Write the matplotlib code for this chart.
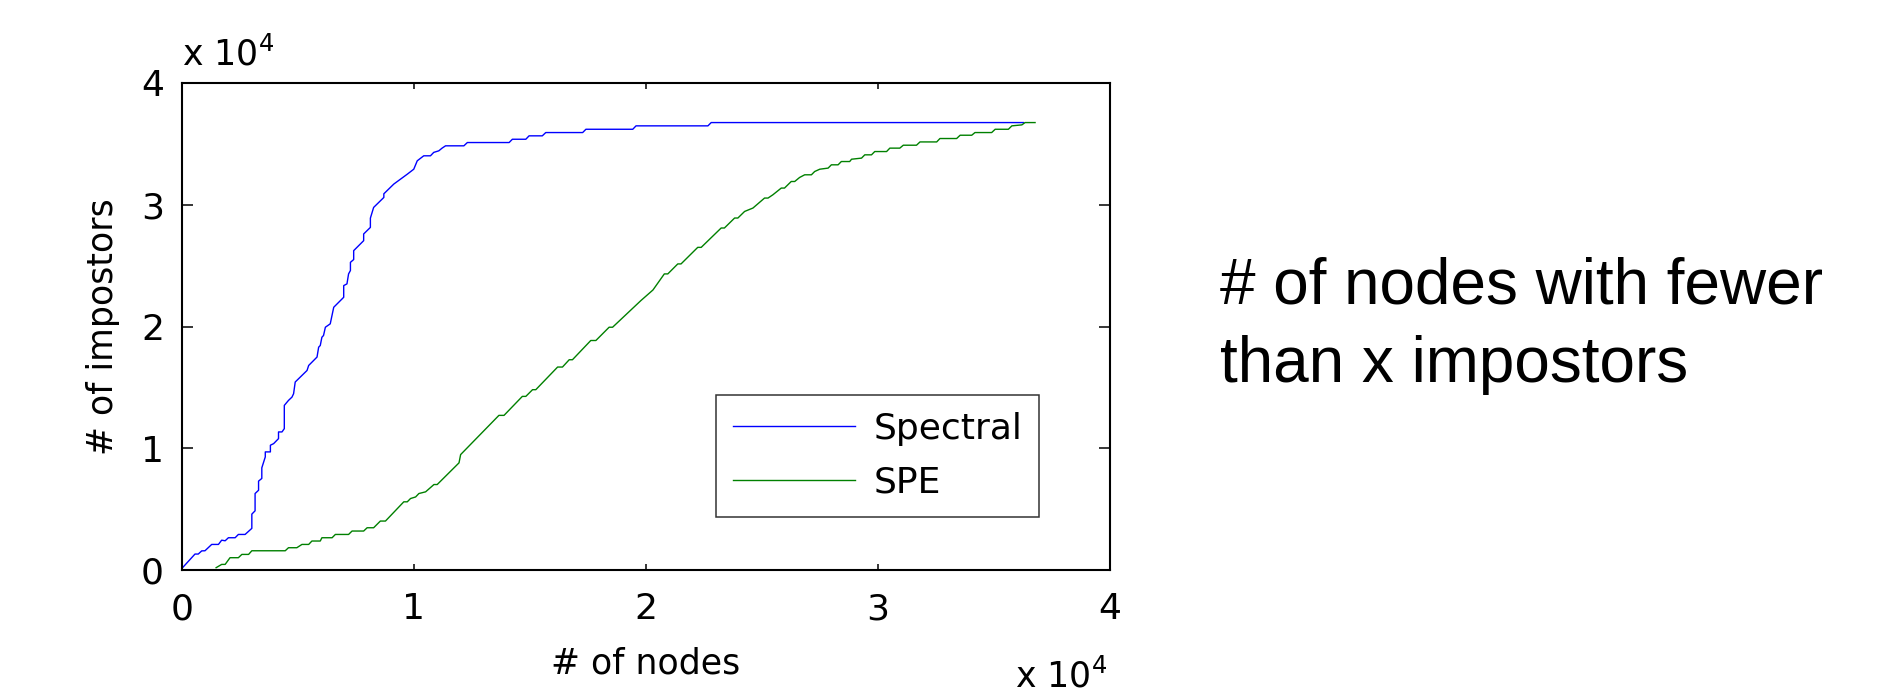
import matplotlib
matplotlib.use("Agg")
import matplotlib.pyplot as plt
from matplotlib.ticker import FixedLocator, FuncFormatter

# ---- data (counts) ----
spectral_nodes = [0, 560, 700, 850, 990, 1280, 1570, 1710, 1860, 2000, 2290, 2430, 2720,
                  3010, 3010, 3150, 3150, 3300, 3300, 3440, 3440, 3590, 3590, 3810, 3810,
                  3950, 4160, 4160, 4310, 4410, 4410, 4590, 4740, 4810, 4880, 5390, 5460,
                  5820, 5890, 5960, 6030, 6100, 6180, 6390, 6540, 6970, 6970, 7110, 7180,
                  7260, 7260, 7400, 7400, 7830, 7830, 8120, 8120, 8260, 8700, 8700, 9130,
                  9710, 9990, 10140, 10420, 10710, 10850, 11070, 11210, 11360, 12150, 12300,
                  14100, 14240, 14820, 14960, 15530, 15680, 17270, 17410, 19430, 19570,
                  22670, 22810, 36270]
spectral_imp = [140, 1310, 1310, 1570, 1580, 2100, 2100, 2450, 2400, 2650, 2650, 2920, 2920,
                3420, 4590, 4860, 6280, 6550, 7300, 7520, 8390, 9290, 9700, 9700, 10250,
                10380, 10790, 11340, 11340, 11610, 13520, 13930, 14200, 14480, 15440, 16390,
                16800, 17490, 18300, 18440, 19120, 19260, 19940, 20220, 21580, 22400, 23360,
                23500, 24320, 24600, 25270, 25500, 26230, 27050, 27600, 28140, 28900, 29780,
                30600, 30900, 31700, 32510, 32920, 33610, 34020, 34020, 34300, 34430, 34650,
                34840, 34840, 35110, 35110, 35380, 35380, 35660, 35660, 35930, 35930, 36200,
                36200, 36480, 36480, 36750, 36750]

spe_nodes = [1470, 1710, 1860, 2070, 2430, 2580, 2870, 3010, 4450, 4590, 4950, 5170, 5460,
             5600, 5960, 6030, 6470, 6610, 7180, 7330, 7830, 7980, 8260, 8550, 8770, 9560,
             9710, 9850, 10070, 10210, 10500, 10860, 11000, 11940, 12010, 13660, 13880,
             14670, 14820, 15110, 15250, 16190, 16400, 16690, 16830, 17620, 17840, 18410,
             18560, 19780, 20300, 20790, 20940, 21370, 21510, 22230, 22380, 23240, 23380,
             23820, 23960, 24250, 24610, 25110, 25260, 25470, 25830, 25970, 26260, 26410,
             26620, 26840, 27130, 27270, 27490, 27850, 27990, 28280, 28420, 28780, 28860,
             29290, 29430, 29720, 29860, 30370, 30510, 30940, 31090, 31660, 31810, 32530,
             32670, 33390, 33540, 34040, 34180, 34900, 35050, 35620, 35770, 36200, 36340,
             36770]
spe_imp = [190, 460, 460, 1010, 1010, 1280, 1280, 1580, 1580, 1830, 1830, 2100, 2100, 2380,
           2380, 2650, 2650, 2920, 2920, 3200, 3200, 3470, 3470, 4020, 4020, 5600, 5600,
           5870, 6000, 6280, 6420, 7020, 7020, 8800, 9480, 12700, 12700, 14260, 14260, 14810,
           14810, 16670, 16670, 17270, 17270, 18850, 18850, 19940, 19940, 22130, 23000,
           24320, 24320, 25140, 25140, 26500, 26500, 28090, 28090, 28910, 28910, 29450,
           29730, 30550, 30550, 30820, 31370, 31370, 31910, 31910, 32240, 32460, 32460,
           32730, 32920, 33010, 33280, 33280, 33550, 33550, 33740, 33830, 34100, 34100,
           34370, 34370, 34650, 34650, 34890, 34890, 35160, 35160, 35440, 35440, 35710,
           35710, 35930, 35930, 36200, 36200, 36480, 36560, 36750, 36750]

labels = ["Spectral", "SPE"]
colors = ["#0000ff", "#008000"]
tick_values = [0, 10000, 20000, 30000, 40000]
tick_labels = ["0", "1", "2", "3", "4"]
x_label = "# of nodes"
y_label = "# of impostors"
exponent_text = r"x 10$^{4}$"
side_lines = ["# of nodes with fewer", "than x impostors"]

# ---- figure ----
W, H = 1900, 698
fig = plt.figure(figsize=(W / 100, H / 100), dpi=100)
fig.patch.set_facecolor("white")

ax_l, ax_r, ax_t, ax_b = 182, 1110, 83, 570
ax = fig.add_axes([ax_l / W, 1 - ax_b / H, (ax_r - ax_l) / W, (ax_b - ax_t) / H])

FS = 25
TFS = 26
fam = ["DejaVu Sans"]

ax.plot(spectral_nodes, spectral_imp, color=colors[0], lw=1.0, label=labels[0])
ax.plot(spe_nodes, spe_imp, color=colors[1], lw=1.0, label=labels[1])

ax.set_xlim(0, 40000)
ax.set_ylim(0, 40000)
ax.xaxis.set_major_locator(FixedLocator(tick_values))
ax.yaxis.set_major_locator(FixedLocator(tick_values))
fmt = FuncFormatter(lambda v, p: tick_labels[tick_values.index(int(round(v)))] if int(round(v)) in tick_values else "")
ax.xaxis.set_major_formatter(fmt)
ax.yaxis.set_major_formatter(fmt)

for s in ax.spines.values():
    s.set_linewidth(1.5)
    s.set_color("black")

ax.tick_params(axis="x", which="major", direction="in", length=4.3, width=1.1,
               top=True, bottom=True, labelsize=TFS, pad=16)
ax.tick_params(axis="y", which="major", direction="in", length=7.7, width=1.1,
               left=True, right=True, labelsize=TFS, pad=13)
for lab in ax.get_xticklabels() + ax.get_yticklabels():
    lab.set_family(fam)

ax.set_xlabel(x_label, fontsize=FS, family=fam)
ax.set_ylabel(y_label, fontsize=FS, family=fam)
ax.xaxis.set_label_coords(0.5, (ax_b - 646) / (ax_b - ax_t))
ax.yaxis.set_label_coords((120 - ax_l) / (ax_r - ax_l), 0.5)

# exponent labels
ax.text(0.0, (ax_b - 65) / (ax_b - ax_t), exponent_text, transform=ax.transAxes,
        ha="left", va="baseline", fontsize=FS, family=fam)
ax.text((1107 - ax_l) / (ax_r - ax_l), (ax_b - 687) / (ax_b - ax_t), exponent_text,
        transform=ax.transAxes, ha="right", va="baseline", fontsize=FS, family=fam)

leg = ax.legend(loc="upper left",
                bbox_to_anchor=((716 - ax_l) / (ax_r - ax_l), (ax_b - 395) / (ax_b - ax_t)),
                borderaxespad=0, fancybox=False, frameon=True, edgecolor="black",
                prop={"family": fam, "size": 26}, handlelength=3.39, handletextpad=0.5,
                borderpad=0.47, labelspacing=0.55)
leg.get_frame().set_linewidth(1.1)

# side annotation
fig.text(1220 / W, 1 - 304 / H, side_lines[0], ha="left", va="baseline",
         fontsize=46, family=["Liberation Sans", "DejaVu Sans"])
fig.text(1220 / W, 1 - 382 / H, side_lines[1], ha="left", va="baseline",
         fontsize=46, family=["Liberation Sans", "DejaVu Sans"])

fig.savefig("out.png", dpi=100, facecolor="white")
